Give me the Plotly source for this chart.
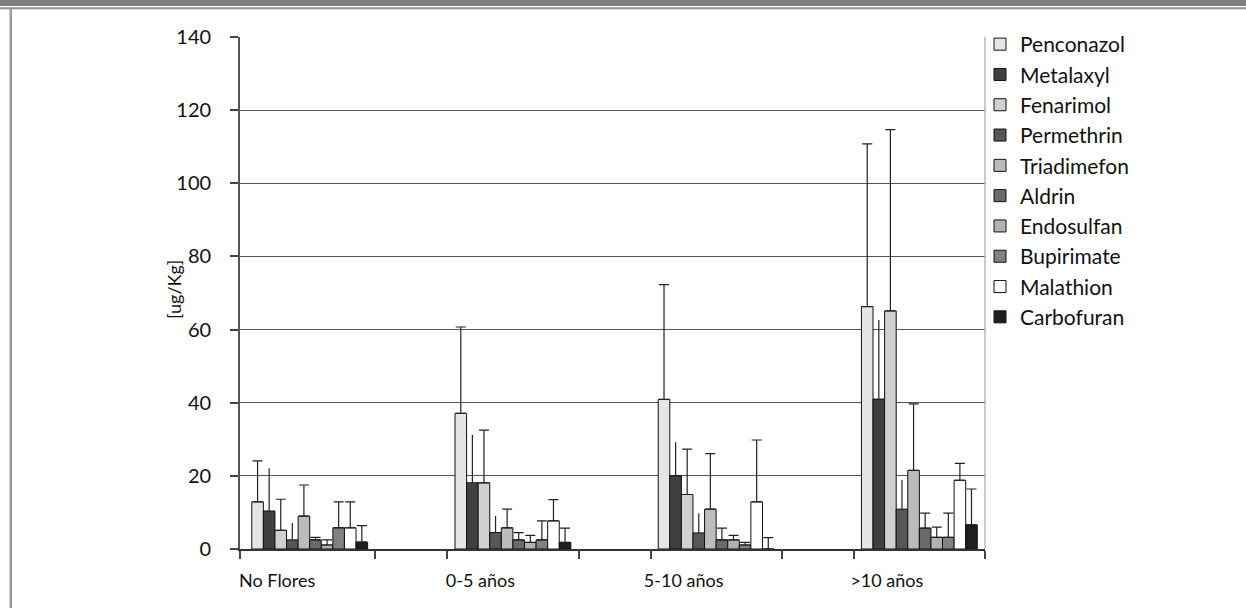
import plotly.graph_objects as go

categories = ["No Flores", "0-5 años", "5-10 años", ">10 años"]
series_names = ["Penconazol", "Metalaxyl", "Fenarimol", "Permethrin", "Triadimefon",
                "Aldrin", "Endosulfan", "Bupirimate", "Malathion", "Carbofuran"]

penconazol = [12.9, 37.1, 40.9, 66.3]
metalaxyl = [10.4, 18.1, 20.0, 41.0]
fenarimol = [5.1, 18.1, 14.9, 65.1]
permethrin = [2.5, 4.5, 4.4, 10.9]
triadimefon = [9.0, 5.8, 10.9, 21.5]
aldrin = [2.5, 2.5, 2.5, 5.7]
endosulfan = [1.1, 1.8, 2.5, 3.2]
bupirimate = [5.8, 2.5, 1.1, 3.2]
malathion = [5.8, 7.7, 12.9, 18.8]
carbofuran = [1.9, 1.8, 0.0, 6.6]

penconazol_err = [11.2, 23.6, 31.4, 44.5]
metalaxyl_err = [11.7, 13.1, 9.2, 21.6]
fenarimol_err = [8.5, 14.4, 12.4, 49.6]
permethrin_err = [4.6, 4.5, 5.4, 8.0]
triadimefon_err = [8.5, 5.1, 15.2, 18.2]
aldrin_err = [0.7, 2.0, 3.2, 4.1]
endosulfan_err = [1.4, 1.9, 1.2, 2.8]
bupirimate_err = [7.1, 5.2, 0.7, 6.6]
malathion_err = [7.1, 5.8, 16.9, 4.6]
carbofuran_err = [4.5, 3.9, 3.1, 9.8]

y_ticks = [0, 20, 40, 60, 80, 100, 120, 140]
y_title = "[ug/Kg]"

values = [penconazol, metalaxyl, fenarimol, permethrin, triadimefon,
          aldrin, endosulfan, bupirimate, malathion, carbofuran]
errors = [penconazol_err, metalaxyl_err, fenarimol_err, permethrin_err, triadimefon_err,
          aldrin_err, endosulfan_err, bupirimate_err, malathion_err, carbofuran_err]
colors = ["#e5e5e5", "#404040", "#d0d0d0", "#575757", "#bcbcbc",
          "#6a6a6a", "#b2b2b2", "#828282", "#ffffff", "#1e1e1e"]
cap_widths = [5, 0, 5, 0, 5, 5, 5, 5, 5, 5]

FONT = "Lato, 'Gill Sans', 'DejaVu Sans', sans-serif"
xpos = list(range(len(categories)))
half = 0.323          # half width of each tick-delimited group, in group-spacing units
left_pad = 0.02       # axis line sits a little left of the first group tick
label_shift = 0.16    # category labels sit left of the bar cluster centre
x_lo = -half - left_pad
x_hi = len(categories) - 1 + half
minor_ticks = [x_lo] + [p + s * half for p in xpos for s in (-1, 1)][1:]

fig = go.Figure()
for name, v, e, c, w in zip(series_names, values, errors, colors, cap_widths):
    fig.add_trace(go.Bar(
        x=xpos, y=v, name=name,
        marker=dict(color=c, line=dict(color="#111111", width=1)),
        error_y=dict(type="data", symmetric=False, array=e, arrayminus=[0] * len(e),
                     color="#222222", thickness=1.2, width=w),
    ))

L, R_EDGE, T, B_EDGE = 240, 985, 37, 549
W, H = float(R_EDGE - L), float(B_EDGE - T)
def px_x(p):
    return (p - L) / W
def px_y(p):
    return (B_EDGE - p) / H

fig.update_layout(
    width=1246, height=608,
    margin=dict(l=L, r=1246 - R_EDGE, t=T, b=608 - B_EDGE),
    paper_bgcolor="white", plot_bgcolor="white",
    barmode="group", bargap=0.43, bargroupgap=0,
    font=dict(family=FONT, color="#111111", size=18),
    showlegend=True,
    legend=dict(x=px_x(980), y=px_y(24), xanchor="left", yanchor="top",
                font=dict(size=21, family=FONT, color="#111111"),
                itemwidth=30, tracegroupgap=0, bgcolor="rgba(0,0,0,0)",
                maxheight=1.0),
    xaxis=dict(
        range=[x_lo, x_hi],
        tickvals=[p - label_shift for p in xpos], ticktext=categories, ticks="",
        showgrid=False, ticklabelstandoff=15,
        showline=True, linecolor="#333333", linewidth=1.5,
        tickfont=dict(size=18, family=FONT, color="#111111"),
        zeroline=False,
        minor=dict(tickmode="array", tickvals=minor_ticks,
                   ticks="outside", ticklen=8, tickcolor="#444444", tickwidth=1.5,
                   showgrid=False),
    ),
    yaxis=dict(
        range=[0, 140], tickvals=y_ticks, ticks="outside", ticklen=8,
        tickcolor="#444444", tickwidth=1.5, ticklabelstandoff=15,
        showgrid=True, gridcolor="#555555", gridwidth=1.2,
        showline=True, linecolor="#555555", linewidth=1.8, zeroline=False,
        tickfont=dict(size=20, family=FONT, color="#111111"),
    ),
)

# y-axis title placed close to the tick labels
fig.add_annotation(text=y_title, textangle=-90, xref="paper", yref="paper",
                   x=px_x(174), y=px_y(290), xanchor="center", yanchor="middle",
                   showarrow=False, font=dict(size=18, family=FONT, color="#111111"))

# light right border of the plot area
fig.add_shape(type="line", xref="paper", yref="paper", x0=1, x1=1, y0=0, y1=1,
              line=dict(color="#a8a8a8", width=1.2))

# Frame decoration: grey band at top, thin grey line below it, grey left border
fig.add_shape(type="rect", xref="paper", yref="paper",
              x0=px_x(-5), x1=px_x(1252), y0=px_y(6), y1=px_y(-5),
              fillcolor="#7f7f7f", line=dict(width=0), layer="above")
fig.add_shape(type="line", xref="paper", yref="paper",
              x0=px_x(-5), x1=px_x(1252), y0=px_y(8.3), y1=px_y(8.3),
              line=dict(color="#8f8f8f", width=2), layer="above")
fig.add_shape(type="line", xref="paper", yref="paper",
              x0=px_x(10.8), x1=px_x(10.8), y0=px_y(9), y1=px_y(615),
              line=dict(color="#9a9a9a", width=2.5), layer="above")

fig.write_html("out.html", config={"displayModeBar": False},
               post_script="document.body.style.margin='0';")
